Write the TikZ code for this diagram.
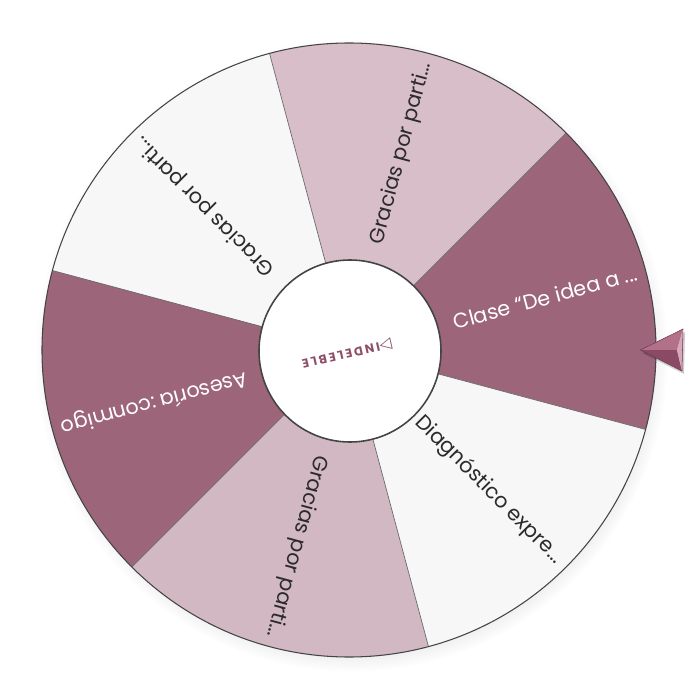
\documentclass[tikz,border=0pt]{standalone}
\usepackage{fontspec}
\setmainfont{Poppins}
\newfontfamily\symfont{DejaVu Sans}
\usetikzlibrary{shadows,fadings,positioning}

\definecolor{segdark}{HTML}{9C6579}
\definecolor{segpink}{HTML}{D8BEC8}
\definecolor{segwhite}{HTML}{F7F7F7}
\definecolor{rimgray}{HTML}{444444}
\definecolor{labelgray}{HTML}{2B2B2B}
\definecolor{logomauve}{HTML}{8E4E68}
\definecolor{ptrlight}{HTML}{D9A6BB}
\definecolor{ptrmid}{HTML}{B27089}
\definecolor{ptrdark}{HTML}{8A4A64}

\tikzset{
  seglabel/.style={anchor=east, inner sep=0pt, font=\fontsize{11.8}{13}\selectfont},
  ondark/.style={seglabel, text=white},
  onlight/.style={seglabel, text=labelgray},
  spoke/.style={draw=rimgray!80, line width=0.4pt}
}

\begin{document}
\begin{tikzpicture}
\useasboundingbox (-6.98,-7.0) rectangle (7.02,7.0);

\fill[white, circular drop shadow={shadow xshift=0.05cm, shadow yshift=-0.1cm, shadow scale=1.03, opacity=0.35}] (0,0) circle (6.14);

\fill[segdark] (0,0) -- (-15:6.14) arc[start angle=-15, end angle=45, radius=6.14] -- cycle;
\fill[segpink] (0,0) -- (45:6.14) arc[start angle=45, end angle=105, radius=6.14] -- cycle;
\fill[segwhite] (0,0) -- (105:6.14) arc[start angle=105, end angle=165, radius=6.14] -- cycle;
\fill[segdark] (0,0) -- (165:6.14) arc[start angle=165, end angle=225, radius=6.14] -- cycle;
\fill[segpink!97!black] (0,0) -- (225:6.14) arc[start angle=225, end angle=285, radius=6.14] -- cycle;
\fill[segwhite] (0,0) -- (285:6.14) arc[start angle=285, end angle=345, radius=6.14] -- cycle;

\draw[spoke] (0,0) -- (-15:6.14);
\draw[spoke] (0,0) -- (45:6.14);
\draw[spoke] (0,0) -- (105:6.14);
\draw[spoke] (0,0) -- (165:6.14);
\draw[spoke] (0,0) -- (225:6.14);
\draw[spoke] (0,0) -- (285:6.14);
\draw[rimgray, line width=0.6pt] (0,0) circle (6.14);

\node (clase) [ondark, rotate=15] at (15:5.96) {Clase “De idea a ...};
\node (graciastop) [onlight, rotate=75] at (75:5.96) {Gracias por parti...};
\node (graciasleft) [onlight, rotate=135] at (135:5.96) {Gracias por parti...};
\node (asesoria) [ondark, rotate=195] at (195:5.96) {Asesoría :conmigo};
\node (graciasbottom) [onlight, rotate=255] at (255:5.96) {Gracias por parti...};
\node (diagnostico) [onlight, rotate=315] at (315:5.96) {Diagnóstico expre...};

\fill[white] (0.02,-0.02) circle (1.82);
\draw[rimgray, line width=0.9pt] (0.02,-0.02) circle (1.82);
\node (logo) [rotate=193, text=logomauve, inner sep=0pt, font=\bfseries\fontsize{7}{8}\selectfont\addfontfeature{LetterSpace=18}] at (-0.04,-0.08) {{\symfont\fontsize{9}{9}\selectfont ▷}INDELEBLE};

\coordinate (tip) at (5.83,0);
\coordinate (backtop) at (6.68,0.42);
\coordinate (backbot) at (6.66,-0.42);
\coordinate (notch) at (6.56,0);
\fill[black, opacity=0.2] ([shift={(0.04,-0.06)}]tip) -- ([shift={(0.04,-0.06)}]backtop) -- ([shift={(0.04,-0.06)}]backbot) -- cycle;
\fill[ptrmid] (tip) -- (backtop) -- (notch) -- cycle;
\fill[ptrdark] (tip) -- (notch) -- (backbot) -- cycle;
\fill[ptrlight] (backtop) -- (backbot) -- (notch) -- cycle;
\draw[ptrdark!80!black, line width=0.3pt] (tip) -- (backtop) -- (backbot) -- cycle;
\end{tikzpicture}
\end{document}
